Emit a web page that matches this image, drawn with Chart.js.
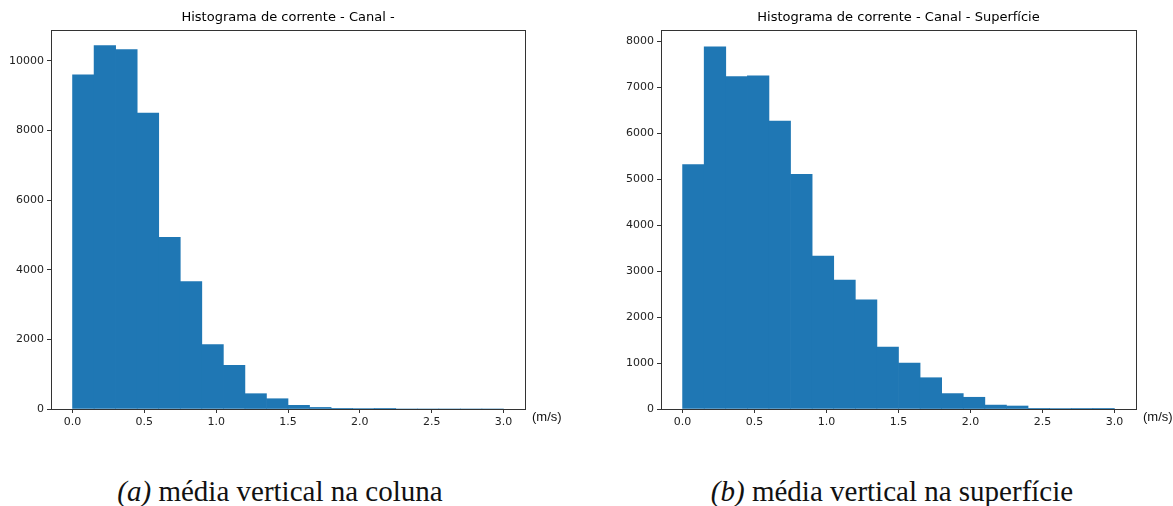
<!DOCTYPE html>
<html>
<head>
<meta charset="utf-8">
<script src="https://cdn.jsdelivr.net/npm/chart.js@4.4.1/dist/chart.umd.min.js"></script>
<style>
  html, body { margin: 0; padding: 0; background: #fff; }
  body { width: 1173px; height: 506px; position: relative; overflow: hidden; }
  .box { position: absolute; top: 0; height: 440px; }
  .cap { position: absolute; top: 475px; font-family: "Liberation Serif", serif; font-size: 29px; color: #111; white-space: nowrap; transform: translateX(-50%); }
</style>
</head>
<body>
<div class="box" style="left:0;width:586px"><canvas id="chart_coluna"></canvas></div>
<div class="box" style="left:586px;width:587px"><canvas id="chart_superficie"></canvas></div>
<div class="cap" style="left:280px"><i>(a)</i> média vertical na coluna</div>
<div class="cap" style="left:892px"><i>(b)</i> média vertical na superfície</div>
<script>
// bin edges (m/s), 20 bins of 0.15
var binEdges = [0.0, 0.15, 0.30, 0.45, 0.60, 0.75, 0.90, 1.05, 1.20, 1.35, 1.50,
                1.65, 1.80, 1.95, 2.10, 2.25, 2.40, 2.55, 2.70, 2.85, 3.0];
var countsColuna = [9600, 10440, 10330, 8500, 4930, 3660, 1850, 1255, 440, 295,
                    105, 45, 20, 15, 10, 0, 0, 0, 0, 0];
var countsSuperficie = [5315, 7875, 7230, 7245, 6260, 5100, 3325, 2805, 2375, 1345,
                        1000, 680, 335, 255, 85, 65, 15, 12, 8, 5];
var xTicks = [0.0, 0.5, 1.0, 1.5, 2.0, 2.5, 3.0];
var yTicksColuna = [0, 2000, 4000, 6000, 8000, 10000];
var yTicksSuperficie = [0, 1000, 2000, 3000, 4000, 5000, 6000, 7000, 8000];

function histData(counts) {
    return counts.map(function (c, i) {
        return { x: (binEdges[i] + binEdges[i + 1]) / 2, y: c };
    });
}

function fixedTicks(list) {
    return function (scale) {
        scale.ticks = list.map(function (v) { return { value: v }; });
    };
}

function makeChart(id, title, counts, yTicks, yMax, yAxisWidth, padRight) {
    return new Chart(document.getElementById(id), {
        type: 'bar',
        data: {
            datasets: [{
                data: histData(counts),
                backgroundColor: '#1f77b4',
                borderWidth: 0,
                barPercentage: 1.0,
                categoryPercentage: 1.0
            }]
        },
        options: {
            animation: false,
            responsive: true,
            maintainAspectRatio: false,
            layout: { padding: { top: 30, right: padRight, left: 0, bottom: 0 } },
            plugins: {
                legend: { display: false },
                tooltip: { enabled: false },
                title: { display: false }
            },
            scales: {
                x: {
                    type: 'linear',
                    offset: false,
                    min: -0.15,
                    max: 3.15,
                    afterBuildTicks: fixedTicks(xTicks),
                    afterFit: function (scale) { scale.height = 31; },
                    ticks: {
                        color: '#222',
                        padding: 3,
                        maxRotation: 0,
                        font: { family: 'DejaVu Sans', size: 11 },
                        callback: function (v) { return v.toFixed(1); }
                    },
                    grid: { display: true, offset: false, drawOnChartArea: false, drawTicks: true, tickLength: 4, color: '#333' },
                    border: { display: true, color: '#333', width: 1 }
                },
                y: {
                    min: 0,
                    max: yMax,
                    afterBuildTicks: fixedTicks(yTicks),
                    afterFit: function (scale) { scale.width = yAxisWidth; },
                    ticks: {
                        color: '#222',
                        padding: 3,
                        font: { family: 'DejaVu Sans', size: 11 },
                        callback: function (v) { return String(v); }
                    },
                    grid: { display: true, drawOnChartArea: false, drawTicks: true, tickLength: 4, color: '#333' },
                    border: { display: true, color: '#333', width: 1 }
                }
            }
        },
        plugins: [{
            id: 'frameAndLabels',
            afterDraw: function (chart) {
                var ctx = chart.ctx, a = chart.chartArea;
                ctx.save();
                ctx.strokeStyle = '#333';
                ctx.lineWidth = 1;
                ctx.strokeRect(Math.round(a.left) + 0.5, Math.round(a.top) + 0.5,
                               Math.round(a.right - a.left), Math.round(a.bottom - a.top));
                ctx.fillStyle = '#000';
                ctx.font = '13px "DejaVu Sans"';
                ctx.textAlign = 'center';
                ctx.textBaseline = 'middle';
                ctx.fillText(title, (a.left + a.right) / 2, 18);
                ctx.fillStyle = '#111';
                ctx.font = '13px "Liberation Sans"';
                ctx.textAlign = 'left';
                ctx.fillText('(m/s)', a.right + 7, a.bottom + 8);
                ctx.restore();
            }
        }]
    });
}

var chart_coluna = makeChart('chart_coluna', 'Histograma de corrente - Canal -',
    countsColuna, yTicksColuna, 10890, 51, 61);
var chart_superficie = makeChart('chart_superficie', 'Histograma de corrente - Canal - Superfície',
    countsSuperficie, yTicksSuperficie, 8240, 75, 37);
</script>
</body>
</html>
